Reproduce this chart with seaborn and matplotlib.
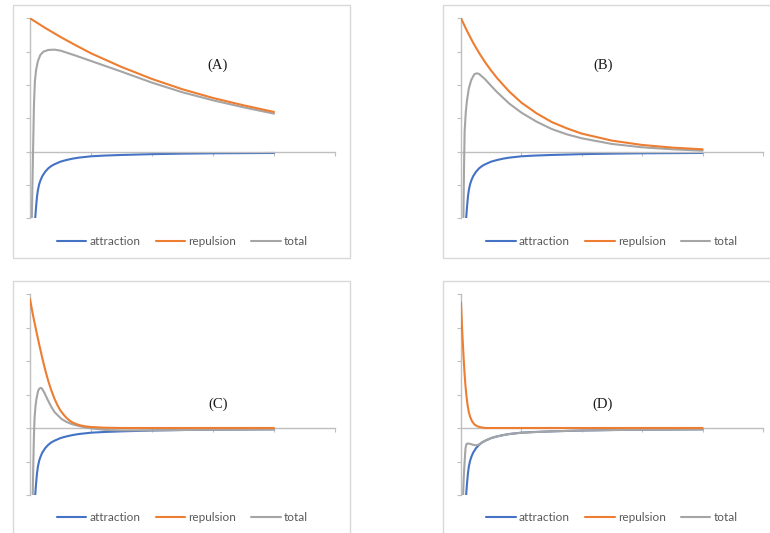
import matplotlib
matplotlib.use("Agg")
import matplotlib.pyplot as plt
from matplotlib.patches import Rectangle
import seaborn as sns

# ---------------- data ----------------
series_names = ["attraction", "repulsion", "total"]
panel_labels = ["(A)", "(B)", "(C)", "(D)"]

x_attr = [0.085, 0.1, 0.115, 0.13, 0.15, 0.17, 0.2, 0.25, 0.3, 0.35, 0.4, 0.5, 0.6,
          0.7, 0.8, 1.0, 1.2, 1.5, 2.0, 2.5, 3.0, 3.5, 4.0]
attraction = [-2.0, -1.65, -1.35, -1.15, -0.98, -0.87, -0.74, -0.6, -0.5, -0.43, -0.38,
              -0.3, -0.25, -0.21, -0.18, -0.14, -0.12, -0.1, -0.075, -0.06, -0.05,
              -0.045, -0.04]

# panel A
x_rep_a = [0.0, 0.25, 0.5, 0.75, 1.0, 1.5, 2.0, 2.5, 3.0, 3.5, 4.0]
rep_a = [4.0, 3.71, 3.44, 3.19, 2.95, 2.54, 2.18, 1.87, 1.61, 1.39, 1.19]
x_tot_a = [0.03, 0.04, 0.05, 0.065, 0.08, 0.1, 0.13, 0.17, 0.22, 0.3, 0.4, 0.5,
           0.75, 1.0, 1.25, 1.5, 2.0, 2.5, 3.0, 3.5, 4.0]
tot_a = [-2.0, -1.0, 0.0, 1.4, 2.1, 2.45, 2.72, 2.9, 3.0, 3.05, 3.06, 3.03,
         2.88, 2.72, 2.56, 2.4, 2.07, 1.78, 1.54, 1.33, 1.14]

# panel B
x_rep_b = [0.0, 0.1, 0.2, 0.3, 0.4, 0.5, 0.6, 0.8, 1.0, 1.25, 1.5, 1.75, 2.0,
           2.5, 3.0, 3.5, 4.0]
rep_b = [4.0, 3.62, 3.27, 2.96, 2.68, 2.43, 2.2, 1.8, 1.47, 1.15, 0.89, 0.7, 0.54,
         0.33, 0.2, 0.12, 0.07]
x_tot_b = [0.04, 0.05, 0.06, 0.08, 0.1, 0.13, 0.17, 0.22, 0.26, 0.3, 0.4, 0.5, 0.6,
           0.8, 1.0, 1.25, 1.5, 1.75, 2.0, 2.5, 3.0, 3.5, 4.0]
tot_b = [-2.0, -0.5, 0.6, 1.2, 1.55, 1.9, 2.15, 2.32, 2.35, 2.33, 2.17, 1.97, 1.78,
         1.44, 1.17, 0.9, 0.68, 0.52, 0.4, 0.23, 0.13, 0.07, 0.03]

# panel C
x_rep_c = [0.0, 0.03, 0.06, 0.1, 0.15, 0.2, 0.25, 0.3, 0.35, 0.4, 0.45, 0.5,
           0.55, 0.6, 0.65, 0.7, 0.8, 0.9, 1.0, 1.2, 1.5, 2.0, 3.0, 4.0]
rep_c = [3.85, 3.55, 3.27, 2.92, 2.5, 2.1, 1.73, 1.4, 1.12, 0.88, 0.68, 0.52,
         0.4, 0.3, 0.22, 0.16, 0.09, 0.05, 0.03, 0.01, 0.0, 0.0, 0.0, 0.0]
x_tot_c = [0.045, 0.055, 0.065, 0.075, 0.09, 0.104, 0.132, 0.15, 0.176, 0.2, 0.241,
           0.296, 0.35, 0.405, 0.516, 0.6, 0.68, 0.8, 0.9, 1.0, 1.25, 1.5, 2.0, 3.0,
           4.0]
tot_c = [-2.0, -1.0, -0.2, 0.3, 0.65, 0.85, 1.1, 1.17, 1.2, 1.17, 1.03, 0.82,
         0.63, 0.47, 0.27, 0.18, 0.12, 0.06, 0.02, -0.01, -0.06, -0.07, -0.07,
         -0.05, -0.04]

# panel D
x_rep_d = [0.0, 0.01, 0.02, 0.03, 0.045, 0.06, 0.075, 0.09, 0.11, 0.13, 0.15, 0.18,
           0.22, 0.27, 0.33, 0.4, 1.0, 2.0, 3.0, 4.0]
rep_d = [3.75, 3.3, 2.9, 2.55, 2.05, 1.6, 1.24, 0.96, 0.67, 0.47, 0.34, 0.21,
         0.11, 0.05, 0.02, 0.0, 0.0, 0.0, 0.0, 0.0]
x_tot_d = [0.035, 0.045, 0.06, 0.075, 0.09, 0.12, 0.16, 0.2, 0.25, 0.3, 0.35, 0.4,
           0.5, 0.6, 0.8, 1.0, 1.5, 2.0, 3.0, 4.0]
tot_d = [-2.0, -1.5, -1.0, -0.6, -0.48, -0.46, -0.48, -0.5, -0.52, -0.49, -0.43,
         -0.38, -0.3, -0.25, -0.18, -0.14, -0.1, -0.075, -0.05, -0.04]

panels = [
    (x_rep_a, rep_a, x_tot_a, tot_a),
    (x_rep_b, rep_b, x_tot_b, tot_b),
    (x_rep_c, rep_c, x_tot_c, tot_c),
    (x_rep_d, rep_d, x_tot_d, tot_d),
]

colors = {"attraction": "#4472C4", "repulsion": "#ED7D31", "total": "#A5A5A5"}

# ---------------- figure ----------------
sns.set_style("white")
W, H = 770, 533
fig = plt.figure(figsize=(W / 100, H / 100), dpi=100)

# chart-area borders (pixel boxes -> figure coords)
boxes = [(13, 5, 350, 258), (443, 5, 780, 258), (13, 281, 350, 545), (443, 281, 780, 545)]
for (l, t, r, b) in boxes:
    fig.add_artist(Rectangle((l / W, 1 - b / H), (r - l) / W, (b - t) / H,
                             transform=fig.transFigure, fill=False,
                             ec="#d9d9d9", lw=1.0, clip_on=False))

ax_rects = [(30, 18.3, 335, 218.3), (461, 18.3, 763, 218.3),
            (30, 294, 335, 495), (461, 294, 763, 495)]
label_pos = [(0.616, 0.766), (0.47, 0.766), (0.616, 0.453), (0.47, 0.453)]
legend_y = [-0.118, -0.118, -0.114, -0.114]
LW = 1.5

for i, (rect, (xr, yr, xt, yt)) in enumerate(zip(ax_rects, panels)):
    l, t, r, b = rect
    ax = fig.add_axes([l / W, 1 - b / H, (r - l) / W, (b - t) / H])
    ax.set_facecolor("none")

    sns.lineplot(x=x_attr, y=attraction, ax=ax, color=colors["attraction"],
                 lw=LW, sort=False, zorder=2, label=series_names[0])
    sns.lineplot(x=xr, y=yr, ax=ax, color=colors["repulsion"], lw=LW,
                 sort=False, zorder=4, label=series_names[1])
    sns.lineplot(x=xt, y=yt, ax=ax, color=colors["total"], lw=LW,
                 sort=False, zorder=3, label=series_names[2])

    ax.set_xlim(0, 5)
    ax.set_ylim(-2, 4)
    ax.set_xticks(range(0, 6))
    ax.set_yticks(range(-2, 5))
    ax.tick_params(labelleft=False, labelbottom=False, length=3, width=0.8,
                   color="#bfbfbf", direction="out", left=True, bottom=True)
    for s in ("top", "right"):
        ax.spines[s].set_visible(False)
    ax.spines["bottom"].set_position(("data", 0))
    for s in ("left", "bottom"):
        ax.spines[s].set_color("#bfbfbf")
        ax.spines[s].set_linewidth(1.0)
    ax.set_xlabel("")
    ax.set_ylabel("")

    leg = ax.legend(loc="center", bbox_to_anchor=(0.5, legend_y[i]), ncol=3,
                    frameon=False, handlelength=2.5, handletextpad=0.25,
                    columnspacing=1.3, prop={"family": "Lato", "size": 8.5})
    for txt in leg.get_texts():
        txt.set_color("#595959")

    ax.text(label_pos[i][0], label_pos[i][1], panel_labels[i], transform=ax.transAxes,
            ha="center", va="center", family="Liberation Serif", fontsize=10.5,
            color="#1a1a1a")

fig.savefig("out.png", dpi=100)
